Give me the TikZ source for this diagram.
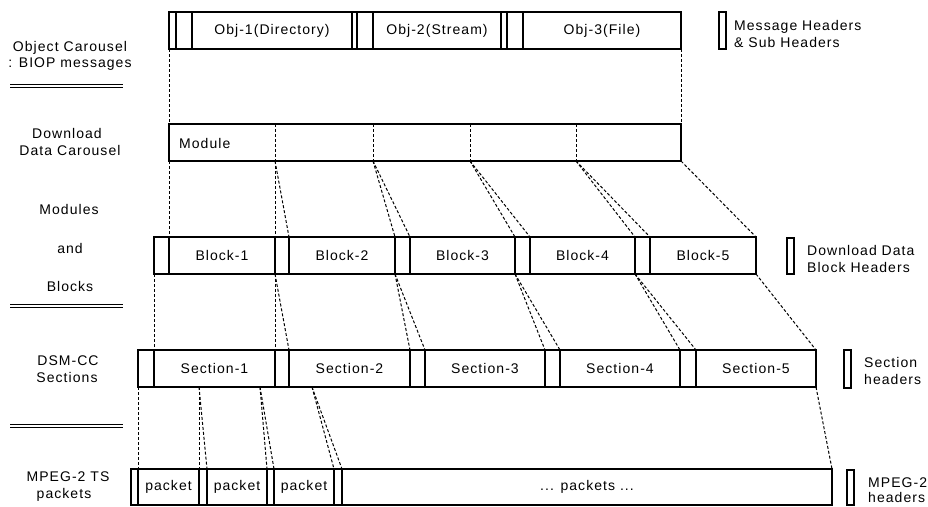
\documentclass[tikz,border=0pt]{standalone}
\usepackage{fontspec}
\setmainfont{Liberation Sans}[LetterSpace=7.5]
\newcommand{\lf}{\fontsize{14}{17}\selectfont}
\tikzset{
  cell/.style={draw, line width=1.1pt, inner sep=0pt, outer sep=0pt, anchor=north west, font=\lf},
  conn/.style={line width=1pt, dash pattern=on 3pt off 2pt},
  lbl/.style={font=\lf, align=center, inner sep=0pt},
  leg/.style={font=\lf, align=left, anchor=west, inner sep=0pt},
  legbox/.style={draw, line width=1.1pt, inner sep=0pt, outer sep=0pt, anchor=north west, minimum width=7pt},
  sep/.style={line width=0.9pt, double, double distance=1.6pt}
}
% \cellat{name}{x1}{x2}{ytop}{height}{text}
\newcommand{\cellat}[6]{\node[cell, minimum width=#3pt-#2pt, minimum height=#5pt] (#1) at (#2,#4) {#6};}
\begin{document}
\begin{tikzpicture}[x=1pt,y=-1pt]
\useasboundingbox (0,0) rectangle (928,506);

% ---------- Object carousel row ----------
\cellat{oh1a}{169}{176}{12}{37}{}
\cellat{oh1b}{176}{192}{12}{37}{}
\cellat{o1}{192}{352}{12}{37}{Obj-1(Directory)}
\cellat{oh2a}{352}{357}{12}{37}{}
\cellat{oh2b}{357}{373}{12}{37}{}
\cellat{o2}{373}{501}{12}{37}{Obj-2(Stream)}
\cellat{oh3a}{501}{507}{12}{37}{}
\cellat{oh3b}{507}{523}{12}{37}{}
\cellat{o3}{523}{681}{12}{37}{Obj-3(File)}

% ---------- Module row ----------
\cellat{mod}{169}{681}{124}{37}{}
\node[font=\lf, anchor=west, inner sep=0pt] (modtxt) at (179,143) {Module};
\coordinate (d1t) at (275,124); \coordinate (d1b) at (275,161);
\coordinate (d2t) at (373,124); \coordinate (d2b) at (373,161);
\coordinate (d3t) at (470,124); \coordinate (d3b) at (470,161);
\coordinate (d4t) at (576,124); \coordinate (d4b) at (576,161);
\draw[conn] (d1t) -- (d1b);
\draw[conn] (d2t) -- (d2b);
\draw[conn] (d3t) -- (d3b);
\draw[conn] (d4t) -- (d4b);

\draw[conn] (oh1a.south west) -- (mod.north west);
\draw[conn] (o3.south east) -- (mod.north east);

% ---------- Block row ----------
\cellat{bh1}{154}{169}{237}{37}{}
\cellat{b1}{169}{275}{237}{37}{Block-1}
\cellat{bh2}{275}{289}{237}{37}{}
\cellat{b2}{289}{395}{237}{37}{Block-2}
\cellat{bh3}{395}{410}{237}{37}{}
\cellat{b3}{410}{515}{237}{37}{Block-3}
\cellat{bh4}{515}{530}{237}{37}{}
\cellat{b4}{530}{635}{237}{37}{Block-4}
\cellat{bh5}{635}{650}{237}{37}{}
\cellat{b5}{650}{756}{237}{37}{Block-5}

\draw[conn] (mod.south west) -- (b1.north west);
\draw[conn] (d1b) -- (b1.north east);
\draw[conn] (d1b) -- (b2.north west);
\draw[conn] (d2b) -- (b2.north east);
\draw[conn] (d2b) -- (b3.north west);
\draw[conn] (d3b) -- (b3.north east);
\draw[conn] (d3b) -- (b4.north west);
\draw[conn] (d4b) -- (b4.north east);
\draw[conn] (d4b) -- (b5.north west);
\draw[conn] (mod.south east) -- (b5.north east);

% ---------- Section row ----------
\cellat{sh1}{138}{154}{350}{37}{}
\cellat{s1}{154}{275}{350}{37}{Section-1}
\cellat{sh2}{275}{289}{350}{37}{}
\cellat{s2}{289}{410}{350}{37}{Section-2}
\cellat{sh3}{410}{425}{350}{37}{}
\cellat{s3}{425}{545}{350}{37}{Section-3}
\cellat{sh4}{545}{560}{350}{37}{}
\cellat{s4}{560}{680}{350}{37}{Section-4}
\cellat{sh5}{680}{696}{350}{37}{}
\cellat{s5}{696}{816}{350}{37}{Section-5}

\draw[conn] (bh1.south west) -- (s1.north west);
\draw[conn] (b1.south east) -- (s1.north east);
\draw[conn] (b1.south east) -- (s2.north west);
\draw[conn] (b2.south east) -- (s2.north east);
\draw[conn] (b2.south east) -- (s3.north west);
\draw[conn] (b3.south east) -- (s3.north east);
\draw[conn] (b3.south east) -- (s4.north west);
\draw[conn] (b4.south east) -- (s4.north east);
\draw[conn] (b4.south east) -- (s5.north west);
\draw[conn] (b5.south east) -- (s5.north east);

% ---------- Packet row ----------
\cellat{ph1}{131}{138}{469}{36}{}
\cellat{p1}{138}{199}{469}{36}{packet}
\cellat{ph2}{199}{207}{469}{36}{}
\cellat{p2}{207}{267}{469}{36}{packet}
\cellat{ph3}{267}{274}{469}{36}{}
\cellat{p3}{274}{334}{469}{36}{packet}
\cellat{ph4}{334}{342}{469}{36}{}
\cellat{p4}{342}{832}{469}{36}{... packets ...}

\coordinate (c1) at (199,387);
\coordinate (c2) at (260,387);
\coordinate (c3) at (312,387);
\draw[conn] (sh1.south west) -- (p1.north west);
\draw[conn] (c1) -- (p1.north east);
\draw[conn] (c1) -- (p2.north west);
\draw[conn] (c2) -- (p2.north east);
\draw[conn] (c2) -- (p3.north west);
\draw[conn] (c3) -- (p3.north east);
\draw[conn] (c3) -- (p4.north west);
\draw[conn] (s5.south east) -- (p4.north east);

% ---------- Left labels ----------
\node[lbl] (l1) at (70,48) {Object Carousel};
\node[lbl] (l2) at (70,64) {: BIOP messages};
\node[lbl] (l3) at (67,133) {Download};
\node[lbl] (l4) at (70,150) {Data Carousel};
\node[lbl] (l5) at (69,209) {Modules};
\node[lbl] (l6) at (70,248) {and};
\node[lbl] (l7) at (70,286) {Blocks};
\node[lbl] (l8) at (68,361) {DSM-CC};
\node[lbl] (l9) at (67,377) {Sections};
\node[lbl] (l10) at (68,477) {MPEG-2 TS};
\node[lbl] (l11) at (64,495) {packets};

\coordinate (sa1) at (10,86);  \coordinate (sa2) at (123,86);
\coordinate (sb1) at (10,306); \coordinate (sb2) at (123,306);
\coordinate (sc1) at (10,426); \coordinate (sc2) at (123,426);
\draw[sep] (sa1) -- (sa2);
\draw[sep] (sb1) -- (sb2);
\draw[sep] (sc1) -- (sc2);

% ---------- Right legends ----------
\node[legbox, minimum height=37pt] (k1) at (719,12) {};
\node[leg] (k1t) at (734,34) {Message Headers\\\& Sub Headers};
\node[legbox, minimum height=36pt] (k2) at (787,238) {};
\node[leg] (k2t) at (807,259) {Download Data\\Block Headers};
\node[legbox, minimum height=38pt] (k3) at (844,350) {};
\node[leg] (k3t) at (864,371) {Section\\headers};
\node[legbox, minimum height=35pt] (k4) at (847,470) {};
\node[leg, font=\fontsize{14}{15}\selectfont] (k4t) at (868,490) {MPEG-2\\headers};
\end{tikzpicture}
\end{document}
